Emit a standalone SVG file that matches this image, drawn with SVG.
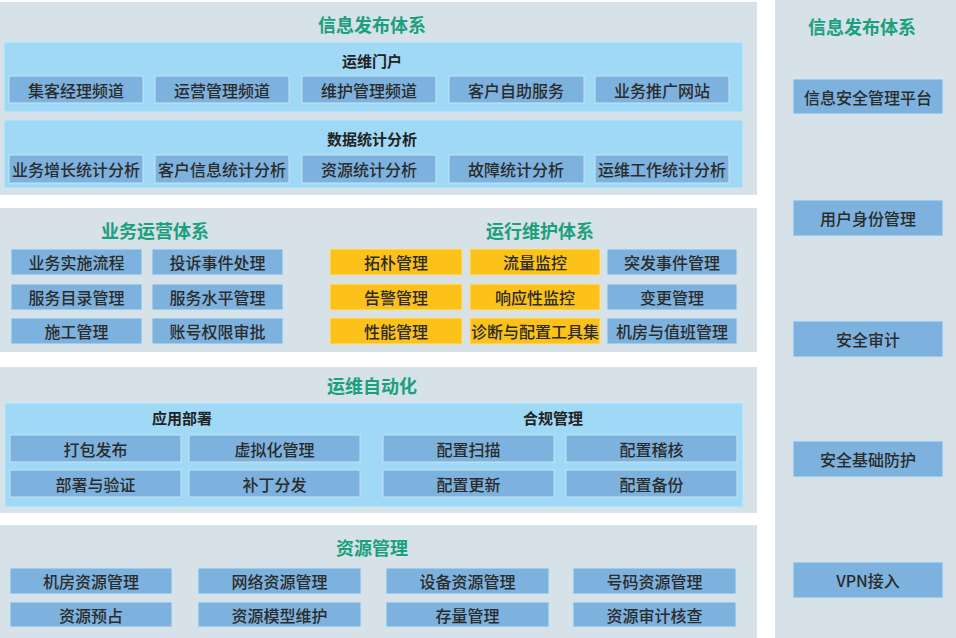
<svg xmlns="http://www.w3.org/2000/svg" width="956" height="638" viewBox="0 0 956 638">
<style>
.panel{fill:#d6e1e8}
.inner{fill:#9fd9f6;stroke:#c4e9fa;stroke-width:1}
.btn{fill:#7db2de;stroke:#c8e4f6;stroke-width:1}
.ybtn{fill:#fcc21a;stroke:#fde08a;stroke-width:1}
.t{font-family:"Noto Sans CJK SC","Liberation Sans",sans-serif;font-size:16px;font-weight:500;fill:#2b2b2b;text-anchor:middle;dominant-baseline:central}
.h{font-family:"Noto Sans CJK SC","Liberation Sans",sans-serif;font-size:18px;font-weight:bold;fill:#1aa07c;text-anchor:middle;dominant-baseline:central}
.s{font-family:"Noto Sans CJK SC","Liberation Sans",sans-serif;font-size:15px;font-weight:bold;fill:#222;text-anchor:middle;dominant-baseline:central}
</style>
<rect width="956" height="638" fill="#ffffff"/>

<g id="info-publish">
<rect class="panel" x="0" y="2" width="757" height="193"/>
<text class="h" x="372" y="24">信息发布体系</text>
<g id="portal">
<rect class="inner" x="4" y="42" width="739" height="70"/>
<text class="s" x="372" y="60">运维门户</text>
<rect class="btn" x="9" y="76" width="134" height="27"/><text class="t" x="76" y="89.5">集客经理频道</text>
<rect class="btn" x="155" y="76" width="134" height="27"/><text class="t" x="222" y="89.5">运营管理频道</text>
<rect class="btn" x="302" y="76" width="134" height="27"/><text class="t" x="369" y="89.5">维护管理频道</text>
<rect class="btn" x="449" y="76" width="135" height="27"/><text class="t" x="516" y="89.5">客户自助服务</text>
<rect class="btn" x="595" y="76" width="134" height="27"/><text class="t" x="662" y="89.5">业务推广网站</text>
</g>
<g id="stats">
<rect class="inner" x="4" y="120" width="739" height="68"/>
<text class="s" x="372" y="138">数据统计分析</text>
<rect class="btn" x="9" y="155" width="134" height="28"/><text class="t" x="76" y="169">业务增长统计分析</text>
<rect class="btn" x="155" y="155" width="134" height="28"/><text class="t" x="222" y="169">客户信息统计分析</text>
<rect class="btn" x="302" y="155" width="134" height="28"/><text class="t" x="369" y="169">资源统计分析</text>
<rect class="btn" x="449" y="155" width="135" height="28"/><text class="t" x="516" y="169">故障统计分析</text>
<rect class="btn" x="595" y="155" width="134" height="28"/><text class="t" x="662" y="169">运维工作统计分析</text>
</g>
</g>

<g id="ops">
<rect class="panel" x="0" y="208" width="757" height="144"/>
<text class="h" x="155" y="230">业务运营体系</text>
<text class="h" x="540" y="230">运行维护体系</text>
<rect class="btn" x="11" y="249" width="131" height="26"/><text class="t" x="76.5" y="262">业务实施流程</text>
<rect class="btn" x="152" y="249" width="131" height="26"/><text class="t" x="217.5" y="262">投诉事件处理</text>
<rect class="btn" x="11" y="284" width="131" height="26"/><text class="t" x="76.5" y="297">服务目录管理</text>
<rect class="btn" x="152" y="284" width="131" height="26"/><text class="t" x="217.5" y="297">服务水平管理</text>
<rect class="btn" x="11" y="318" width="131" height="26"/><text class="t" x="76.5" y="331">施工管理</text>
<rect class="btn" x="152" y="318" width="131" height="26"/><text class="t" x="217.5" y="331">账号权限审批</text>

<rect class="ybtn" x="330" y="249" width="132" height="26"/><text class="t" x="396" y="262">拓朴管理</text>
<rect class="ybtn" x="470" y="249" width="130" height="26"/><text class="t" x="535" y="262">流量监控</text>
<rect class="btn" x="607" y="249" width="130" height="26"/><text class="t" x="672" y="262">突发事件管理</text>
<rect class="ybtn" x="330" y="284" width="132" height="26"/><text class="t" x="396" y="297">告警管理</text>
<rect class="ybtn" x="470" y="284" width="130" height="26"/><text class="t" x="535" y="297">响应性监控</text>
<rect class="btn" x="607" y="284" width="130" height="26"/><text class="t" x="672" y="297">变更管理</text>
<rect class="ybtn" x="330" y="318" width="132" height="26"/><text class="t" x="396" y="331">性能管理</text>
<rect class="ybtn" x="470" y="318" width="130" height="26"/><text class="t" x="535" y="331">诊断与配置工具集</text>
<rect class="btn" x="607" y="318" width="130" height="26"/><text class="t" x="672" y="331">机房与值班管理</text>
</g>

<g id="automation">
<rect class="panel" x="0" y="367" width="757" height="146"/>
<text class="h" x="372" y="385">运维自动化</text>
<rect class="inner" x="5" y="403" width="738" height="104"/>
<text class="s" x="182" y="417">应用部署</text>
<text class="s" x="553" y="417">合规管理</text>
<rect class="btn" x="10" y="435" width="171" height="27"/><text class="t" x="95.5" y="448.5">打包发布</text>
<rect class="btn" x="189" y="435" width="171" height="27"/><text class="t" x="274.5" y="448.5">虚拟化管理</text>
<rect class="btn" x="10" y="470" width="171" height="27"/><text class="t" x="95.5" y="483.5">部署与验证</text>
<rect class="btn" x="189" y="470" width="171" height="27"/><text class="t" x="274.5" y="483.5">补丁分发</text>
<rect class="btn" x="383" y="435" width="171" height="27"/><text class="t" x="468.5" y="448.5">配置扫描</text>
<rect class="btn" x="566" y="435" width="171" height="27"/><text class="t" x="651.5" y="448.5">配置稽核</text>
<rect class="btn" x="383" y="470" width="171" height="27"/><text class="t" x="468.5" y="483.5">配置更新</text>
<rect class="btn" x="566" y="470" width="171" height="27"/><text class="t" x="651.5" y="483.5">配置备份</text>
</g>

<g id="resources">
<rect class="panel" x="0" y="525" width="757" height="113"/>
<text class="h" x="372" y="547">资源管理</text>
<rect class="btn" x="10" y="568" width="162" height="26"/><text class="t" x="91" y="581">机房资源管理</text>
<rect class="btn" x="198" y="568" width="163" height="26"/><text class="t" x="279.5" y="581">网络资源管理</text>
<rect class="btn" x="386" y="568" width="163" height="26"/><text class="t" x="467.5" y="581">设备资源管理</text>
<rect class="btn" x="573" y="568" width="163" height="26"/><text class="t" x="654.5" y="581">号码资源管理</text>
<rect class="btn" x="10" y="602" width="162" height="25"/><text class="t" x="91" y="614.5">资源预占</text>
<rect class="btn" x="198" y="602" width="163" height="25"/><text class="t" x="279.5" y="614.5">资源模型维护</text>
<rect class="btn" x="386" y="602" width="163" height="25"/><text class="t" x="467.5" y="614.5">存量管理</text>
<rect class="btn" x="573" y="602" width="163" height="25"/><text class="t" x="654.5" y="614.5">资源审计核查</text>
</g>

<g id="security">
<rect class="panel" x="775" y="0" width="181" height="638"/>
<text class="h" x="862" y="26">信息发布体系</text>
<rect class="btn" x="793" y="79" width="150" height="35"/><text class="t" x="868" y="96.5">信息安全管理平台</text>
<rect class="btn" x="793" y="200" width="150" height="36"/><text class="t" x="868" y="218">用户身份管理</text>
<rect class="btn" x="793" y="321" width="150" height="36"/><text class="t" x="868" y="339">安全审计</text>
<rect class="btn" x="793" y="441" width="150" height="36"/><text class="t" x="868" y="459">安全基础防护</text>
<rect class="btn" x="793" y="562" width="150" height="36"/><text class="t" x="868" y="580">VPN接入</text>
</g>

<g id="connectors"></g>
</svg>
